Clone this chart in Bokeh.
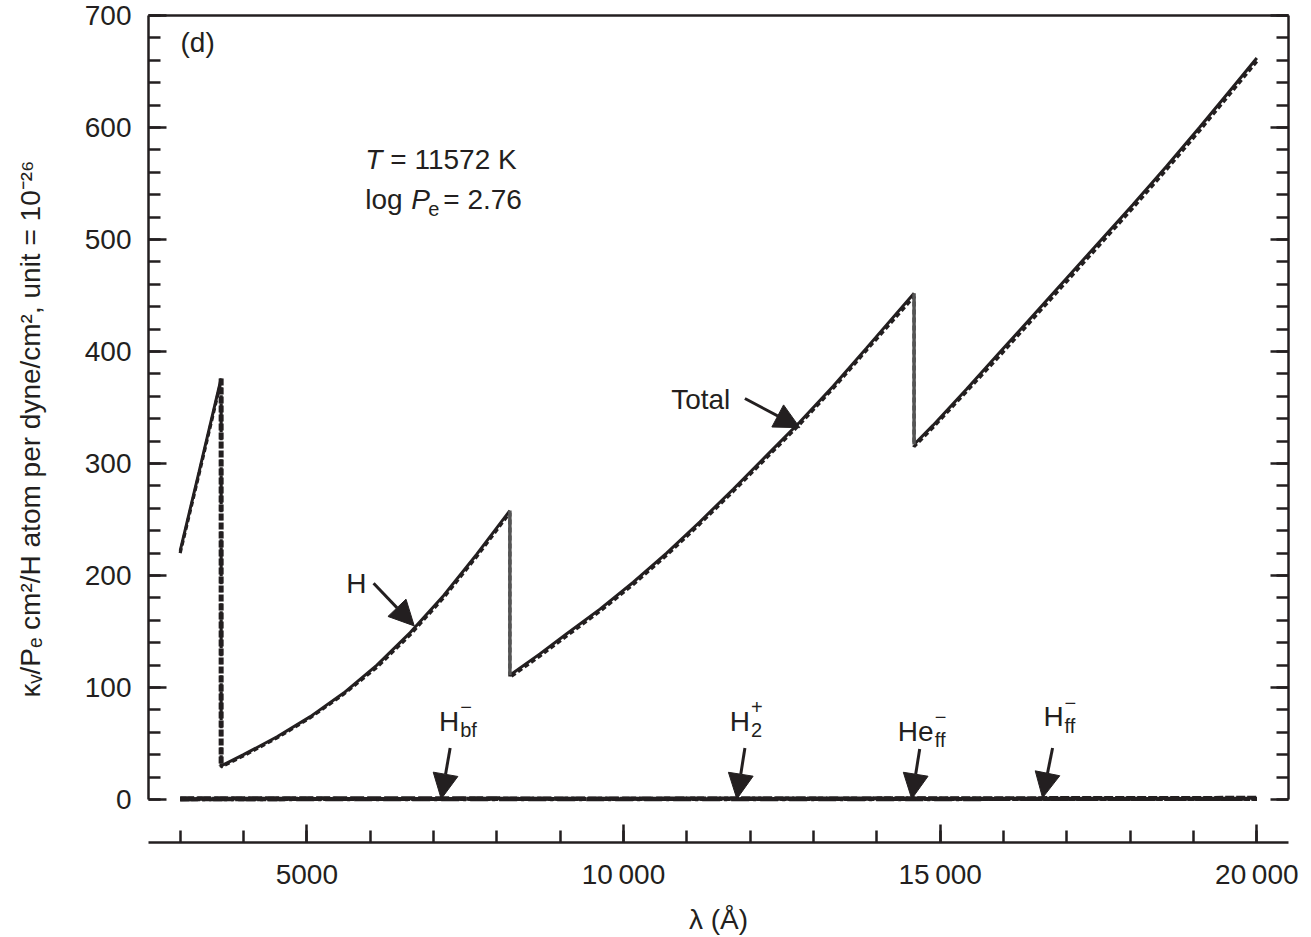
from bokeh.plotting import figure
from bokeh.models import (Range1d, LinearAxis, SingleIntervalTicker, FixedTicker,
                          Arrow, NormalHead)
from bokeh.core.properties import value
from bokeh.embed import file_html
from bokeh.resources import INLINE

FONT = "Liberation Sans"
INK = "#231f20"

# ---------------- data ----------------
# Total opacity, one list per continuum (Balmer, Paschen, Brackett, Pfund)
seg1_wl = [3000, 3300, 3647]
seg1_tot = [222, 293, 376]
seg1_h = [220, 291, 374]

seg2_wl = [3647, 4000, 4530, 5055, 5581, 6107, 6632, 7158, 7684, 8206]
seg2_tot = [30, 40, 56, 74, 95, 120, 149, 182, 219, 258]
seg2_h = [29, 39, 55, 73, 94, 118, 147, 180, 217, 256]

seg3_wl = [8206, 8680, 9104, 9629, 10155, 10681, 11207, 11732, 12258, 12784, 13310, 13836, 14588]
seg3_tot = [111, 130, 148, 170, 194, 220, 248, 277, 307, 337, 369, 403, 452]
seg3_h = [109, 128, 146, 168, 192, 218, 246, 275, 305, 335, 367, 401, 449]

seg4_wl = [14588, 14886, 15412, 15938, 16464, 16990, 17516, 18042, 18568, 19094, 19621, 20000]
seg4_tot = [317, 334, 366, 399, 432, 465, 498, 531, 565, 600, 636, 662]
seg4_h = [315, 332, 364, 396, 429, 462, 495, 528, 562, 597, 633, 659]

# minor contributors (all close to zero)
minor_wl = [3000, 8000, 14000, 20000]
hmbf_val = [1.2, 1.0, 0.8, 0.6]
h2p_val = [0.6, 0.5, 0.5, 0.4]
heff_val = [0.1, 0.2, 0.3, 0.4]
hmff_val = [0.2, 0.6, 1.0, 1.5]

x_tick_labels = {5000: "5000", 10000: "10\u2009000", 15000: "15\u2009000", 20000: "20\u2009000"}

# annotation arrows (start -> tip)
arrow_names = ["H", "Total", "Hbf", "H2p", "Heff", "Hff"]
arrow_x0 = [6054, 11917, 7263, 11917, 14677, 16775]
arrow_y0 = [193, 358, 46, 46, 45, 46]
arrow_x1 = [6696, 12784, 7122, 11790, 14551, 16617]
arrow_y1 = [155, 332, 0.5, 0.5, 0.5, 1.5]

# ---------------- figure ----------------
p = figure(width=1311, height=937, output_backend="svg", toolbar_location=None,
           x_range=Range1d(2500, 20500), y_range=Range1d(-38.4, 700),
           min_border_left=148, min_border_right=23, min_border_top=15,
           min_border_bottom=95)
p.outline_line_color = None
p.grid.visible = False
p.background_fill_color = "white"
p.border_fill_color = "white"

AX_W = 2.5


def style_axis(ax):
    ax.axis_line_width = AX_W
    ax.axis_line_color = INK
    ax.major_tick_line_width = AX_W
    ax.major_tick_line_color = INK
    ax.minor_tick_line_width = AX_W
    ax.minor_tick_line_color = INK
    ax.major_tick_in = 18
    ax.major_tick_out = 0
    ax.minor_tick_in = 12
    ax.minor_tick_out = 0
    ax.major_label_text_font = FONT
    ax.major_label_text_font_size = "28px"
    ax.major_label_text_color = INK
    ax.axis_label_text_font = FONT
    ax.axis_label_text_font_size = "28px"
    ax.axis_label_text_font_style = "normal"
    ax.axis_label_text_color = INK


xax = p.xaxis[0]
style_axis(xax)
xax.ticker = SingleIntervalTicker(interval=5000, num_minor_ticks=5)
xax.major_label_overrides = x_tick_labels
xax.major_label_standoff = 16
xax.axis_label = "λ (Å)"
xax.axis_label_standoff = 11

yax = p.yaxis[0]
style_axis(yax)
yax.ticker = SingleIntervalTicker(interval=100, num_minor_ticks=5)
yax.bounds = (0, 700)
yax.major_label_standoff = 17
yax.axis_label = "κᵥ/Pₑ cm²/H atom per dyne/cm², unit = 10⁻²⁶"
yax.axis_label_standoff = 36

rax = LinearAxis(ticker=SingleIntervalTicker(interval=100, num_minor_ticks=5))
style_axis(rax)
rax.bounds = (0, 700)
rax.major_label_text_color = None
rax.major_label_text_font_size = "1px"
rax.major_label_standoff = 0
p.add_layout(rax, "right")

tax = LinearAxis(ticker=FixedTicker(ticks=[]))
style_axis(tax)
tax.major_label_text_color = None
tax.major_label_text_font_size = "1px"
tax.major_label_standoff = 0
p.add_layout(tax, "above")

# ---------------- curves ----------------
h_wl = seg1_wl + seg2_wl + seg3_wl + seg4_wl
h_val = seg1_h + seg2_h + seg3_h + seg4_h
p.line(h_wl, h_val, line_color=INK, line_width=3.2, line_dash="5 3")

p.multi_line([seg1_wl, seg2_wl, seg3_wl, seg4_wl],
             [seg1_tot, seg2_tot, seg3_tot, seg4_tot],
             line_color=INK, line_width=3)

# Balmer jump drawn as a heavy dashed drop
p.segment(x0=[seg1_wl[-1]], y0=[seg1_tot[-1]], x1=[seg2_wl[0]], y1=[seg2_tot[0]],
          line_color=INK, line_width=5, line_dash="7 2")

# vertical jumps of the total at the Paschen and Brackett edges
jump_x = [seg2_wl[-1], seg3_wl[-1]]
jump_top = [seg2_tot[-1], seg3_tot[-1]]
jump_bot = [seg3_tot[0], seg4_tot[0]]
p.segment(x0=jump_x, y0=jump_top, x1=jump_x, y1=jump_bot,
          line_color="#555555", line_width=3.5)

p.line(minor_wl, hmbf_val, line_color=INK, line_width=4, line_dash="14 3")
p.line(minor_wl, h2p_val, line_color=INK, line_width=4, line_dash="6 2")
p.line(minor_wl, heff_val, line_color=INK, line_width=4, line_dash="18 4 3 4")
p.line(minor_wl, hmff_val, line_color=INK, line_width=4, line_dash="9 2")

# ---------------- arrows ----------------
for x0, y0, x1, y1 in zip(arrow_x0, arrow_y0, arrow_x1, arrow_y1):
    p.add_layout(Arrow(x_start=x0, y_start=y0, x_end=x1, y_end=y1,
                       line_color=INK, line_width=3,
                       end=NormalHead(size=25, fill_color=INK, line_color=INK,
                                      line_width=1)))


def txt(x, y, s, size="28px", style="normal", align="left", dx=0, dy=0):
    p.text(x=[x], y=[y], text=[s], text_font=value(FONT), text_font_size=size,
           text_font_style=style, text_align=align, text_baseline="middle",
           x_offset=dx, y_offset=dy, text_color=INK)


# panel tag
txt(3005, 676, "(d)")

# model parameters
txt(5923, 571, "T", style="italic")
txt(5923, 571, "= 11572 K", dx=25)
txt(5923, 536, "log")
txt(5923, 536, "P", style="italic", dx=46)
txt(5923, 536, "e", size="20px", dx=63, dy=10)
txt(5923, 536, "= 2.76", dx=78)

# curve labels
txt(5781, 193, "H", align="center")
txt(11219, 357, "Total", align="center")

# minor contributor labels: base, superscript, subscript
lab_x = [7248, 11838, 14614, 16790]
lab_y = [70, 70, 61, 74]
lab_base = ["H", "H", "He", "H"]
lab_sup = ["\u2212", "+", "\u2212", "\u2212"]
lab_sub = ["bf", "2", "ff", "ff"]
lab_half = [10, 10, 18, 10]
for x, y, b, sp, sb, hw in zip(lab_x, lab_y, lab_base, lab_sup, lab_sub, lab_half):
    txt(x, y, b, align="center")
    txt(x, y, sp, size="20px", dx=hw + 1, dy=-14)
    txt(x, y, sb, size="20px", dx=hw + 1, dy=9)

open("out.html", "w").write(file_html(p, INLINE))
